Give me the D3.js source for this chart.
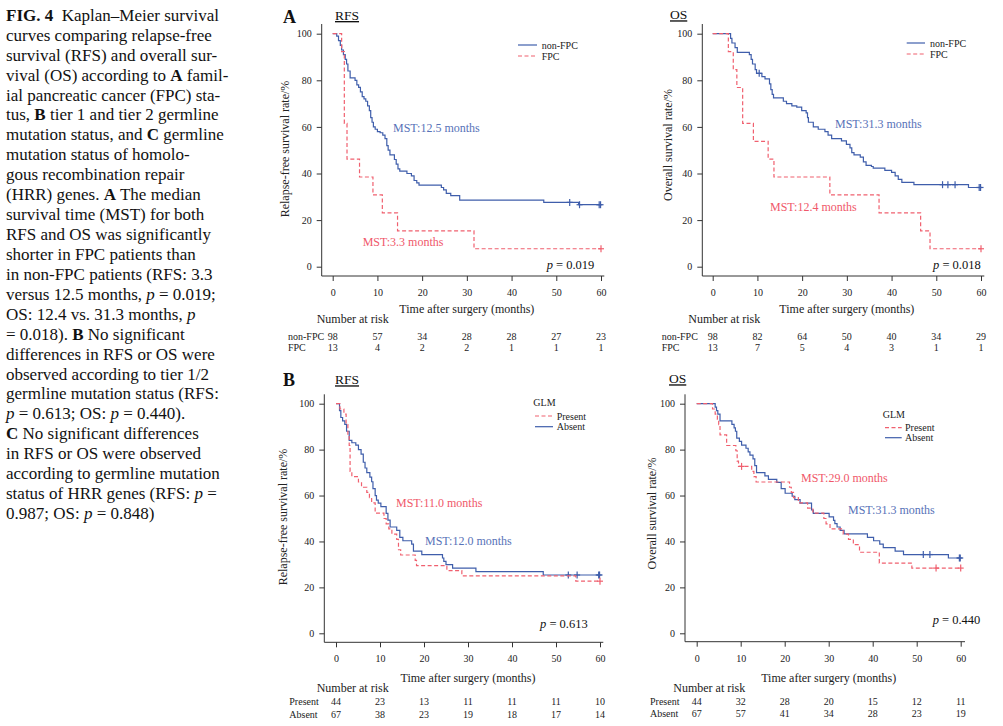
<!DOCTYPE html>
<html><head><meta charset="utf-8">
<script src="https://cdn.jsdelivr.net/npm/d3@7"></script>
<style>
html,body{margin:0;padding:0;background:#fff;}
svg{display:block;font-family:"Liberation Serif","Times New Roman",serif;}
</style></head>
<body>
<svg id="c" width="1003" height="726"></svg>
<script>
// ---------- DATA ----------
const timeTicks = [0, 10, 20, 30, 40, 50, 60];
const survTicks = [0, 20, 40, 60, 80, 100];

// Panel A, RFS
const aRfsNonFpcT = [0,0.9,1.3,1.7,2.0,2.4,2.8,3.1,3.4,3.9,5.0,5.4,5.8,6.2,6.6,7.0,7.4,7.8,8.2,8.5,8.8,9.1,9.5,10.0,10.6,11.2,11.7,12.1,12.4,12.8,13.8,14.2,14.6,15.0,16.6,17.6,18.2,18.8,19.3,24.3,24.8,25.4,26.4,28.4,47.2,55.0];
const aRfsNonFpcS = [100,99,97,95,93,91,89,87,84,81,80,78,77,75,73,72,71,69,67,64,62,60,59,58,57.5,56.5,55,52,50,48,46,44,42,41,40,39,37,36,35,34,33,31.5,30.5,28.6,27.6,26.6];
const aRfsNonFpcCens = [53.0, 55.2, 59.6, 59.9];
const aRfsFpcT = [0,2.0,2.6,3.2,6.0,9.0,11.1,14.5,31.6];
const aRfsFpcS = [100,92.3,61.5,46.2,38.5,30.8,23.1,15.4,7.7];
const aRfsFpcCens = [60];
const aRfsRiskNonFpc = [98,57,34,28,28,27,23];
const aRfsRiskFpc = [13,4,2,2,1,1,1];

// Panel A, OS
const aOsNonFpcT = [0,4.0,4.3,5.0,5.5,8.2,8.6,8.9,9.5,9.8,11.0,11.7,12.7,13.0,13.3,13.6,15.8,16.5,17.7,18.8,19.9,20.9,21.2,21.4,22.5,23.6,25.1,25.8,26.6,28.8,29.9,30.7,31.1,31.6,33.0,33.7,34.3,35.5,35.9,38.5,40.0,40.8,41.5,42.3,45.0,57.2];
const aOsNonFpcS = [100,98,96,94,92,91,89,87,84.6,83,81.6,80.6,78.5,76,74,72.5,71,70,69,68.5,67,66,64,62,60,59,58,56.5,55,54,52.5,51,49,48,47,45,43.5,43,42.3,41.3,40.5,39,37.5,36.2,35.2,34];
const aOsNonFpcCens = [10.4, 51.4, 52.6, 54.2, 59.6, 59.9];
const aOsFpcT = [0,3.5,4.6,5.4,6.7,9.1,12.4,13.7,26.2,37.2,46.5,48.6];
const aOsFpcS = [100,92.3,84.6,76.9,61.5,53.8,46.2,38.5,30.8,23.1,15.4,7.7];
const aOsFpcCens = [60];
const aOsRiskNonFpc = [98,82,64,50,40,34,29];
const aOsRiskFpc = [13,7,5,4,3,1,1];

// Panel B, RFS
const bRfsPresentT = [0,0.9,1.8,2.3,2.7,3.0,3.2,3.6,5.1,5.8,7.0,7.6,8.1,8.9,10.9,11.4,12.0,12.7,13.8,14.2,14.7,18.0,18.3,25.2,28.6,54.5];
const bRfsPresentS = [100,97.7,95.5,90.9,86.4,81.8,70.5,68.2,65.9,63.6,61.4,59.1,56.8,52.3,50.0,47.7,45.5,43.2,40.9,36.4,34.1,31.8,29.5,27.3,25.0,22.7];
const bRfsPresentCens = [60];
const bRfsAbsentT = [0,0.8,1.1,1.5,2.0,2.4,3.0,3.6,4.5,5.1,5.7,6.2,6.6,7.0,7.7,8.1,8.4,8.9,9.2,9.6,10.2,11.4,11.8,12.3,13.8,14.5,15.2,17.2,17.6,19.5,24.2,24.5,25.0,26.5,31.8,47.1];
const bRfsAbsentS = [100,97,94,92.5,91,88,84,83,82,80,78,74.5,72,70,68,66,63,60,58,56.7,55.2,52.2,49.3,46.3,44.8,41.8,40.3,38.8,35.8,34.3,32.8,31.3,29.9,28.4,26.9,25.4];
const bRfsAbsentCens = [52.8, 54.8, 59.7, 59.9];
const bRfsRiskPresent = [44,23,13,11,11,11,10];
const bRfsRiskAbsent = [67,38,23,19,18,17,14];

// Panel B, OS
const bOsPresentT = [0,3.6,4.2,4.7,5.0,5.3,6.8,8.9,9.2,9.5,12.5,13.0,13.5,21.1,21.5,22.0,23.1,25.2,26.4,28.9,29.4,30.3,33.3,34.5,35.6,37.0,41.5,48.9];
const bOsPresentS = [100,97.7,95.5,93.2,90.9,86.4,81.8,79.5,75.0,72.7,70.5,68.2,65.9,63.6,61.4,59.1,56.8,54.5,52.3,50.0,47.7,45.5,43.2,40.9,38.6,35.3,30.6,28.4];
const bOsPresentCens = [10.2, 54.4, 60];
const bOsAbsentT = [0,4.2,4.5,4.8,5.3,8.0,8.5,8.8,9.1,9.7,10.2,11.2,11.7,12.1,12.8,13.2,13.6,15.5,16.3,18.2,19.2,20.1,21.7,22.3,23.5,26.1,26.5,30.1,31.1,31.4,31.9,32.6,33.5,38.8,40.2,41.6,42.4,45.1,47.0,57.2];
const bOsAbsentS = [100,98.5,97,95.5,92.5,91,89.5,88,85,83.6,82,80.6,79,77.6,76,73,70,68.6,67,65.7,63,61,59.7,58.2,56.7,53.7,52.2,50.7,49.2,47.8,46.3,44.8,43.3,41.8,40.3,38.8,37.3,35.8,34.3,32.8];
const bOsAbsentCens = [51.5, 53.0, 59.7, 59.9];
const bOsRiskPresent = [44,32,28,20,15,12,11];
const bOsRiskAbsent = [67,57,41,34,28,23,19];

// Caption lines (** bold **, _italic_)
const captionLines = [
  "**FIG. 4**  Kaplan–Meier survival",
  "curves comparing relapse-free",
  "survival (RFS) and overall sur-",
  "vival (OS) according to **A** famil-",
  "ial pancreatic cancer (FPC) sta-",
  "tus, **B** tier 1 and tier 2 germline",
  "mutation status, and **C** germline",
  "mutation status of homolo-",
  "gous recombination repair",
  "(HRR) genes. **A** The median",
  "survival time (MST) for both",
  "RFS and OS was significantly",
  "shorter in FPC patients than",
  "in non-FPC patients (RFS: 3.3",
  "versus 12.5 months, _p_ = 0.019;",
  "OS: 12.4 vs. 31.3 months, _p_",
  "= 0.018). **B** No significant",
  "differences in RFS or OS were",
  "observed according to tier 1/2",
  "germline mutation status (RFS:",
  "_p_ = 0.613; OS: _p_ = 0.440).",
  "**C** No significant differences",
  "in RFS or OS were observed",
  "according to germline mutation",
  "status of HRR genes (RFS: _p_ =",
  "0.987; OS: _p_ = 0.848)"
];

// ---------- STYLE ----------
const BLUE = "#3f5eab", RED = "#f0606f", BLUE_TXT = "#5872b8", RED_TXT = "#f0586a", AX = "#333";

const svg = d3.select("#c");
svg.append("rect").attr("width",1003).attr("height",726).attr("fill","#fff");

// caption
const cap = svg.append("g");
captionLines.forEach((ln, i) => {
  const t = cap.append("text").attr("x", 6).attr("y", 20.8 + i*19.93)
    .attr("font-size", 17).attr("fill", "#111").attr("xml:space","preserve").style("white-space","pre");
  ln.split(/(\*\*[^*]+\*\*|_[^_]+_)/).filter(s => s.length).forEach(seg => {
    const sp = t.append("tspan");
    if (seg.startsWith("**")) sp.attr("font-weight","bold").text(seg.slice(2,-2));
    else if (seg.startsWith("_")) sp.attr("font-style","italic").text(seg.slice(1,-1));
    else sp.text(seg);
  });
});

// panel definitions
const panels = [
  { letter:"A", letterX:283, letterY:23.3, title:"RFS", titleX:335, titleY:20,
    left:321.7, top:24, bottom:276, right:604.3, x0:332.7, x60:601, y0:266.7, y100:33.7,
    ytitle:"Relapse-free survival rate/%", ytX:285, ytY:149, xtY:309,
    series:[
      {t:aRfsNonFpcT, s:aRfsNonFpcS, c:aRfsNonFpcCens, color:BLUE, dash:null},
      {t:aRfsFpcT, s:aRfsFpcS, c:aRfsFpcCens, color:RED, dash:"4,2.5"}],
    legend:{x1:518, x2:537, tx:541.7, ys:[45,56], labels:["non-FPC","FPC"], order:[0,1], head:null},
    mst:[{txt:"MST:12.5 months", x:393, y:127.7, color:BLUE_TXT},{txt:"MST:3.3 months", x:362.7, y:242, color:RED_TXT}],
    p:{x:546.7, y:265, v:"0.019"},
    risk:{nar:[316.7,319], labX:288, ys:[336,347.7], labels:["non-FPC","FPC"], rows:[aRfsRiskNonFpc, aRfsRiskFpc]}
  },
  { letter:null, title:"OS", titleX:670, titleY:19.3,
    left:702.3, top:24, bottom:276, right:984.3, x0:712.7, x60:981, y0:266.7, y100:33.7,
    ytitle:"Overall survival rate/%", ytX:668, ytY:145, xtY:309,
    series:[
      {t:aOsNonFpcT, s:aOsNonFpcS, c:aOsNonFpcCens, color:BLUE, dash:null},
      {t:aOsFpcT, s:aOsFpcS, c:aOsFpcCens, color:RED, dash:"4,2.5"}],
    legend:{x1:906.7, x2:925, tx:930, ys:[43,54], labels:["non-FPC","FPC"], order:[0,1], head:null},
    mst:[{txt:"MST:31.3 months", x:835, y:124, color:BLUE_TXT},{txt:"MST:12.4 months", x:770, y:207, color:RED_TXT}],
    p:{x:933, y:265, v:"0.018"},
    risk:{nar:[688.3,319], labX:661.7, ys:[336,347.7], labels:["non-FPC","FPC"], rows:[aOsRiskNonFpc, aOsRiskFpc]}
  },
  { letter:"B", letterX:283, letterY:385.5, title:"RFS", titleX:335, titleY:384.3,
    left:324.3, top:394.3, bottom:642.3, right:603.3, x0:336, x60:600, y0:633.3, y100:403.7,
    ytitle:"Relapse-free survival rate/%", ytX:282.5, ytY:517, xtY:677.7,
    series:[
      {t:bRfsAbsentT, s:bRfsAbsentS, c:bRfsAbsentCens, color:BLUE, dash:null},
      {t:bRfsPresentT, s:bRfsPresentS, c:bRfsPresentCens, color:RED, dash:"4,2.5"}],
    legend:{x1:535, x2:553, tx:556.7, ys:[426.7,416], labels:["Absent","Present"], order:[0,1], head:{txt:"GLM", x:533.3, y:402.7}},
    mst:[{txt:"MST:11.0 months", x:396, y:502.7, color:RED_TXT},{txt:"MST:12.0 months", x:425, y:540.7, color:BLUE_TXT}],
    p:{x:540, y:623.3, v:"0.613"},
    risk:{nar:[316.7,687.7], labX:289.3, ys:[701.7,714], labels:["Present","Absent"], rows:[bRfsRiskPresent, bRfsRiskAbsent]}
  },
  { letter:null, title:"OS", titleX:669, titleY:383.3,
    left:685, top:394.3, bottom:641.7, right:965, x0:696.7, x60:960.7, y0:633.3, y100:403.7,
    ytitle:"Overall survival rate/%", ytX:652, ytY:513.5, xtY:677.7,
    series:[
      {t:bOsAbsentT, s:bOsAbsentS, c:bOsAbsentCens, color:BLUE, dash:null},
      {t:bOsPresentT, s:bOsPresentS, c:bOsPresentCens, color:RED, dash:"4,2.5"}],
    legend:{x1:885, x2:901.7, tx:905, ys:[437.7,427.7], labels:["Absent","Present"], order:[0,1], head:{txt:"GLM", x:882.7, y:414}},
    mst:[{txt:"MST:29.0 months", x:801, y:477.3, color:RED_TXT},{txt:"MST:31.3 months", x:848, y:509.3, color:BLUE_TXT}],
    p:{x:932.7, y:620, v:"0.440"},
    risk:{nar:[673.3,687.7], labX:650, ys:[701,713.3], labels:["Present","Absent"], rows:[bOsRiskPresent, bOsRiskAbsent]}
  }
];

function stepAt(T, S, t) {
  let v = S[0];
  for (let i = 0; i < T.length; i++) if (T[i] <= t) v = S[i];
  return v;
}

panels.forEach(P => {
  const g = svg.append("g");
  const x = d3.scaleLinear().domain([0,60]).range([P.x0, P.x60]);
  const y = d3.scaleLinear().domain([0,100]).range([P.y0, P.y100]);

  // L frame
  g.append("line").attr("x1",P.left).attr("x2",P.left).attr("y1",P.top).attr("y2",P.bottom).attr("stroke",AX).attr("stroke-width",1);
  g.append("line").attr("x1",P.left).attr("x2",P.right).attr("y1",P.bottom).attr("y2",P.bottom).attr("stroke",AX).attr("stroke-width",1);

  const ya = g.append("g").attr("transform",`translate(${P.left},0)`)
    .call(d3.axisLeft(y).tickValues(survTicks).tickSize(5).tickPadding(5).tickFormat(d3.format("d")));
  const xa = g.append("g").attr("transform",`translate(0,${P.bottom})`)
    .call(d3.axisBottom(x).tickValues(timeTicks).tickSize(5).tickPadding(8).tickFormat(d3.format("d")));
  [ya, xa].forEach(a => {
    a.select(".domain").remove();
    a.selectAll("line").attr("stroke",AX);
    a.selectAll("text").attr("font-family","Liberation Serif").attr("font-size",10).attr("fill","#222");
  });

  // titles
  if (P.letter) g.append("text").attr("x",P.letterX).attr("y",P.letterY).attr("font-size",18).attr("font-weight","bold").attr("fill","#111").text(P.letter);
  const tt = g.append("text").attr("x",P.titleX).attr("y",P.titleY).attr("font-size",13.5).attr("fill","#111").attr("text-decoration","underline").text(P.title);

  g.append("text").attr("transform",`translate(${P.ytX},${P.ytY}) rotate(-90)`).attr("text-anchor","middle")
    .attr("dy","0.35em").attr("font-size",12).attr("fill","#222").text(P.ytitle);
  g.append("text").attr("x",(P.x0+P.x60)/2).attr("y",P.xtY).attr("dy","0.35em").attr("text-anchor","middle")
    .attr("font-size",12).attr("fill","#222").text("Time after surgery (months)");

  // curves
  P.series.forEach(se => {
    const pts = se.t.map((t,i) => [t, se.s[i]]);
    const endT = Math.max(se.t[se.t.length-1], d3.max(se.c));
    pts.push([endT, se.s[se.s.length-1]]);
    const line = d3.line().x(d => x(d[0])).y(d => y(d[1])).curve(d3.curveStepAfter);
    g.append("path").attr("d", line(pts)).attr("fill","none").attr("stroke",se.color)
      .attr("stroke-width",1.2).attr("stroke-dasharray",se.dash);
    se.c.forEach(ct => {
      const cy = y(stepAt(se.t, se.s, ct));
      g.append("line").attr("x1",x(ct)).attr("x2",x(ct)).attr("y1",cy-3.5).attr("y2",cy+3.5).attr("stroke",se.color).attr("stroke-width",1.2);
      g.append("line").attr("x1",x(ct)-3).attr("x2",x(ct)+3).attr("y1",cy).attr("y2",cy).attr("stroke",se.color).attr("stroke-width",1.2);
    });
  });

  // legend
  const L = P.legend;
  if (L.head) g.append("text").attr("x",L.head.x).attr("y",L.head.y).attr("dy","0.35em").attr("font-size",10).attr("fill","#222").text(L.head.txt);
  P.series.forEach((se, i) => {
    const yy = L.ys[i];
    g.append("line").attr("x1",L.x1).attr("x2",L.x2).attr("y1",yy).attr("y2",yy).attr("stroke",se.color).attr("stroke-width",1.2).attr("stroke-dasharray",se.dash);
    g.append("text").attr("x",L.tx).attr("y",yy).attr("dy","0.35em").attr("font-size",10).attr("fill","#222").text(L.labels[i]);
  });

  // MST labels
  P.mst.forEach(m => g.append("text").attr("x",m.x).attr("y",m.y).attr("dy","0.35em").attr("font-size",12).attr("fill",m.color).text(m.txt));

  // p value
  const pt = g.append("text").attr("x",P.p.x).attr("y",P.p.y).attr("dy","0.35em").attr("font-size",12.5).attr("fill","#111").attr("xml:space","preserve");
  pt.append("tspan").attr("font-style","italic").text("p");
  pt.append("tspan").text(" = " + P.p.v);

  // risk table
  const R = P.risk;
  g.append("text").attr("x",R.nar[0]).attr("y",R.nar[1]).attr("dy","0.35em").attr("font-size",12).attr("fill","#222").text("Number at risk");
  R.rows.forEach((row, ri) => {
    g.append("text").attr("x",R.labX).attr("y",R.ys[ri]).attr("dy","0.35em").attr("font-size",10).attr("fill","#222").text(R.labels[ri]);
    g.selectAll(null).data(row).enter().append("text")
      .attr("x",(d,i) => x(timeTicks[i])).attr("y",R.ys[ri]).attr("dy","0.35em").attr("text-anchor","middle")
      .attr("font-size",10).attr("fill","#222").text(d => d);
  });
});
</script>
</body></html>
